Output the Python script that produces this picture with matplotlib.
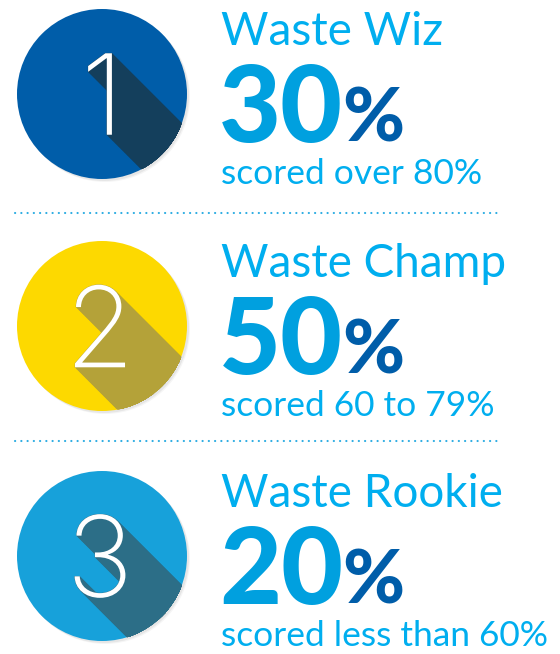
import matplotlib
matplotlib.use('Agg')
import matplotlib.pyplot as plt
import numpy as np
from matplotlib.patches import Circle, PathPatch
from matplotlib.textpath import TextPath
from matplotlib.font_manager import FontProperties
from matplotlib.transforms import Affine2D

# tiers of the quiz results
ranks = ['1', '2', '3']
titles = ['Waste Wiz', 'Waste Champ', 'Waste Rookie']
shares = [30, 50, 20]
notes = ['scored over 80%', 'scored 60 to 79%', 'scored less than 60%']

circle_colors = ['#005DA9', '#FDD900', '#17A1DA']
shadow_colors = ['#143F5C', '#B4A239', '#2C6E87']
title_color = '#00AEEF'
big_color = '#00A0DF'
pct_color = '#005DA9'

W, H = 560, 654
fig = plt.figure(figsize=(W / 100, H / 100), dpi=100)
ax = fig.add_axes([0, 0, 1, 1])
ax.set_xlim(0, W)
ax.set_ylim(H, 0)
ax.axis('off')

cx, r = 102, 85
row_y = [94, 326, 556]
text_x = 221


def glyph(ch, size, x, y):
    tp = TextPath((0, 0), ch, size=size, prop=FontProperties(family='Inter', weight=200))
    bb = tp.get_extents()
    tr = Affine2D().translate(-(bb.x0 + bb.x1) / 2, -(bb.y0 + bb.y1) / 2).scale(1, -1).translate(x, y)
    return tr.transform_path(tp)


fig.canvas.draw()
renderer = fig.canvas.get_renderer()

for i, cy in enumerate(row_y):
    # soft drop shadow under the disc
    for off, a in [(3, 0.04), (2, 0.06)]:
        ax.add_patch(Circle((cx + off, cy + off), r, fc='#000000', ec='none', alpha=a, zorder=1))
    disc = Circle((cx, cy), r, fc=circle_colors[i], ec='none', zorder=2)
    ax.add_patch(disc)

    gp = glyph(ranks[i], 112, cx - 2, cy)
    # long shadow: sweep the numeral down-right, clipped to the disc
    for k in np.arange(0, 190, 0.6):
        p = PathPatch(Affine2D().translate(k, k).transform_path(gp),
                      fc=shadow_colors[i], ec=shadow_colors[i], lw=0.4, zorder=3)
        ax.add_patch(p)
        p.set_clip_path(disc)
    ax.add_patch(PathPatch(gp, fc='white', ec='none', zorder=4))

    ax.text(text_x, cy - 49, titles[i], fontsize=33, family='Lato', color=title_color,
            va='baseline', ha='left')
    num = ax.text(text_x - 2, cy + 48, str(shares[i]), fontsize=77, family='Lato',
                  fontweight='black', color=big_color, va='baseline', ha='left')
    bb = num.get_window_extent(renderer)
    x_end = ax.transData.inverted().transform((bb.x1, bb.y0))[0]
    ax.text(x_end - 1, cy + 48, '%', fontsize=54, family='Lato', fontweight='black',
            color=pct_color, va='baseline', ha='left')
    ax.text(text_x, cy + 90, notes[i], fontsize=25.5, family='Lato', color=title_color,
            va='baseline', ha='left')

# dotted separators
for y in [213, 441]:
    ax.plot([15, 498], [y, y], color='#29ABE2', lw=1.5, linestyle=(0, (0.1, 2.9)),
            dash_capstyle='round')

fig.savefig('out.png', dpi=100)
